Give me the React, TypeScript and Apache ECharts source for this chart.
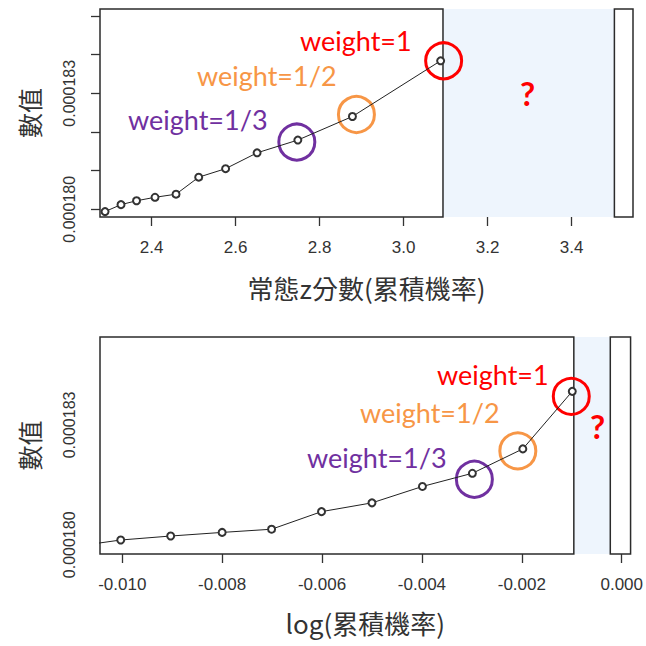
import React, { useEffect, useRef } from "react";
import * as echarts from "echarts";

// ---- data ----
const zScores = [2.289, 2.327, 2.364, 2.408, 2.458, 2.512, 2.576, 2.651, 2.748, 2.878, 3.088];
const logProbs = [-0.01106, -0.01003, -0.00903, -0.008, -0.00701, -0.00601, -0.005, -0.00399, -0.00299, -0.00198, -0.00099];
const values = [
  0.00017994, 0.00018012, 0.00018022, 0.00018031, 0.00018039, 0.00018083,
  0.00018105, 0.00018146, 0.00018179, 0.0001824, 0.00018384,
];
const topXTicks = [2.4, 2.6, 2.8, 3.0, 3.2, 3.4];
const bottomXTicks = [-0.01, -0.008, -0.006, -0.004, -0.002, 0];
const yTicks = [0.00018, 0.000181, 0.000182, 0.000183, 0.000184, 0.000185];
const yTickLabels = [0.00018, 0.000183];
const highlightIndex = [10, 9, 8];
const highlightText = ["weight=1", "weight=1/2", "weight=1/3"];
const highlightColor = ["#FF0000", "#F79646", "#7030A0"];
const topXTitle = "常態z分數(累積機率)";
const bottomXTitle = "log(累積機率)";
const yTitle = "數值";

// ---- layout ----
const topX = { min: 2.277, max: 3.546, boxEnd: 3.0936, blueEnd: 3.5017 };
const topY = { min: 0.0001798, max: 0.00018518 };
const botX = { min: -0.010445, max: 0.000177, boxEnd: -0.000959, blueEnd: -0.000229 };
const botY = { min: 0.00017977, max: 0.0001852 };
const topCircleOffsets = [[3, 0], [4, -2], [-1, 2]];
const botCircleOffsets = [[-1, 5], [-5, 2], [2, 6]];
const topTextPos = [[300, 43], [197, 78], [128, 122]];
const botTextPos = [[437, 377], [360, 415], [307, 460]];
const ink = "#333";
const annFont = "Lato, 'Noto Sans', sans-serif";

function frameAreas(x: any, y: any) {
  return [
    [
      { xAxis: x.boxEnd, yAxis: y.min, itemStyle: { color: "#EEF5FD", borderWidth: 0 } },
      { xAxis: x.blueEnd, yAxis: y.max },
    ],
    [
      { xAxis: x.min, yAxis: y.min, itemStyle: { color: "rgba(0,0,0,0)", borderColor: "#2b2b2b", borderWidth: 1.5 } },
      { xAxis: x.boxEnd, yAxis: y.max },
    ],
    [
      { xAxis: x.blueEnd, yAxis: y.min, itemStyle: { color: "#ffffff", borderColor: "#2b2b2b", borderWidth: 1.5 } },
      { xAxis: x.max, yAxis: y.max },
    ],
  ];
}

function circles(xs: number[], offsets: number[][]) {
  return highlightIndex.map((idx, i) => ({
    coord: [xs[idx], values[idx]],
    symbolOffset: offsets[i],
    itemStyle: { color: "rgba(0,0,0,0)", borderColor: highlightColor[i], borderWidth: 3 },
  }));
}

function texts(pos: number[][], q: number[]) {
  const els: any[] = highlightText.map((t, i) => ({
    type: "text",
    left: pos[i][0],
    top: pos[i][1] - 16,
    style: { text: t, fill: highlightColor[i], font: `27px ${annFont}` },
    z: 100,
  }));
  els.push({
    type: "text",
    left: q[0] - 9,
    top: q[1] - 19,
    style: { text: "?", fill: "#FF0000", font: `bold 33px ${annFont}` },
    z: 100,
  });
  return els;
}

function xAxisFor(r: any, ticks: number[], digits: number, gridIndex: number, name: string, gap: number) {
  return {
    type: "value",
    gridIndex,
    min: r.min,
    max: r.max,
    name,
    nameLocation: "middle",
    nameGap: gap,
    nameTextStyle: { fontSize: 26, color: ink, fontFamily: "'Noto Sans CJK TC', sans-serif" },
    axisLine: { show: false },
    splitLine: { show: false },
    axisTick: { show: true, length: 9, customValues: ticks, lineStyle: { color: ink, width: 1.3 } },
    axisLabel: {
      customValues: ticks,
      margin: 22,
      fontSize: 17,
      color: ink,
      fontFamily: "'Liberation Sans', Arial, sans-serif",
      formatter: (v: number) => v.toFixed(digits),
    },
  };
}

function yAxisFor(r: any, gridIndex: number) {
  return {
    type: "value",
    gridIndex,
    min: r.min,
    max: r.max,
    name: yTitle,
    nameLocation: "middle",
    nameRotate: 90,
    nameGap: 59,
    nameTextStyle: { fontSize: 25, color: ink, fontFamily: "'Noto Sans CJK TC', sans-serif" },
    axisLine: { show: false },
    splitLine: { show: false },
    axisTick: { show: true, length: 9, customValues: yTicks, lineStyle: { color: ink, width: 1.3 } },
    axisLabel: {
      customValues: yTickLabels,
      rotate: 90,
      margin: 23,
      fontSize: 16,
      color: ink,
      fontFamily: "'Liberation Sans', Arial, sans-serif",
      formatter: (v: number) => v.toFixed(6),
    },
  };
}

const lineStyleBase = {
  type: "line",
  symbol: "emptyCircle",
  symbolSize: 7,
  lineStyle: { color: "#222", width: 1 },
  itemStyle: { color: "#333", borderWidth: 1 },
  clip: true,
  z: 5,
};

export default function App() {
  const ref = useRef<HTMLDivElement>(null);
  useEffect(() => {
    if (!ref.current) return;
    const chart = echarts.init(ref.current, undefined, { renderer: "svg" });
    chart.setOption({
      animation: false,
      backgroundColor: "#ffffff",
      grid: [
        { left: 100, top: 9, width: 533, height: 208 },
        { left: 100, top: 337, width: 533, height: 217 },
      ],
      xAxis: [
        xAxisFor(topX, topXTicks, 1, 0, topXTitle, 57),
        xAxisFor(botX, bottomXTicks, 3, 1, bottomXTitle, 55),
      ],
      yAxis: [yAxisFor(topY, 0), yAxisFor(botY, 1)],
      series: [
        {
          type: "line",
          xAxisIndex: 0,
          yAxisIndex: 0,
          data: [],
          clip: false,
          silent: true,
          z: 1,
          markArea: { silent: true, label: { show: false }, data: frameAreas(topX, topY) },
        },
        {
          type: "line",
          xAxisIndex: 1,
          yAxisIndex: 1,
          data: [],
          clip: false,
          silent: true,
          z: 1,
          markArea: { silent: true, label: { show: false }, data: frameAreas(botX, botY) },
        },
        {
          ...lineStyleBase,
          xAxisIndex: 0,
          yAxisIndex: 0,
          data: zScores.map((x, i) => [x, values[i]]),
        },
        {
          ...lineStyleBase,
          xAxisIndex: 1,
          yAxisIndex: 1,
          data: logProbs.map((x, i) => [x, values[i]]),
        },
        {
          type: "line",
          xAxisIndex: 0,
          yAxisIndex: 0,
          data: [],
          clip: false,
          z: 10,
          markPoint: {
            symbol: "circle",
            symbolSize: 36,
            silent: true,
            label: { show: false },
            data: circles(zScores, topCircleOffsets),
          },
        },
        {
          type: "line",
          xAxisIndex: 1,
          yAxisIndex: 1,
          data: [],
          clip: false,
          z: 10,
          markPoint: {
            symbol: "circle",
            symbolSize: 36,
            silent: true,
            label: { show: false },
            data: circles(logProbs, botCircleOffsets),
          },
        },
      ],
      graphic: [...texts(topTextPos, [529, 95]), ...texts(botTextPos, [599, 428])],
    });
    return () => chart.dispose();
  }, []);
  return (
    <div
      ref={ref}
      style={{ position: "absolute", left: 0, top: 0, width: 646, height: 646, background: "#fff" }}
    />
  );
}
